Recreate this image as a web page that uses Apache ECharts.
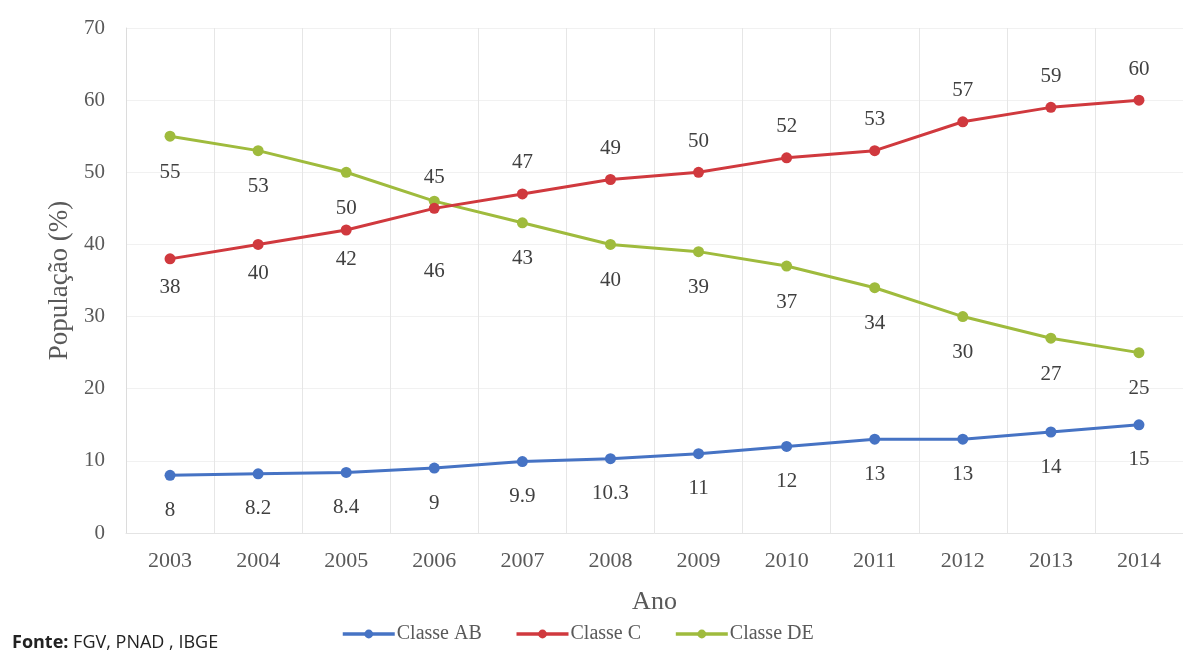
<!DOCTYPE html>
<html>
<head>
<meta charset="utf-8">
<style>
  html, body { margin: 0; padding: 0; background: #ffffff; }
  #chart { width: 1183px; height: 652px; }
</style>
<script src="https://cdn.jsdelivr.net/npm/echarts@6/dist/echarts.min.js"></script>
</head>
<body>
<div id="chart"></div>
<script>
// Years on the horizontal axis
const anos = ['2003', '2004', '2005', '2006', '2007', '2008', '2009', '2010', '2011', '2012', '2013', '2014'];

// Share of population per income class (%)
const classeAB = [8, 8.2, 8.4, 9, 9.9, 10.3, 11, 12, 13, 13, 14, 15];
const classeC = [38, 40, 42, 45, 47, 49, 50, 52, 53, 57, 59, 60];
const classeDE = [55, 53, 50, 46, 43, 40, 39, 37, 34, 30, 27, 25];

// Class C labels sit below the line until the curves cross
const cLabelBelow = [true, true, true, false, false, false, false, false, false, false, false, false];

const serif = '"Liberation Serif", "DejaVu Serif", serif';
const sans = '"Open Sans", "Liberation Sans", sans-serif';
const labelStyle = { show: true, fontFamily: serif, fontSize: 21, color: '#404040' };

const chart = echarts.init(document.getElementById('chart'));

chart.setOption({
  backgroundColor: '#ffffff',
  animation: false,
  grid: { left: 126, top: 28, width: 1061, height: 505 },
  xAxis: {
    type: 'category',
    data: anos,
    boundaryGap: true,
    name: 'Ano',
    nameLocation: 'middle',
    nameGap: 56,
    nameTextStyle: { fontFamily: serif, fontSize: 26, color: '#595959' },
    axisLine: { show: true, lineStyle: { color: '#e4e4e4' } },
    axisTick: { show: false },
    axisLabel: { fontFamily: serif, fontSize: 22, color: '#595959', margin: 17 },
    splitLine: { show: true, interval: 0, lineStyle: { color: '#e6e6e6', width: 1 } }
  },
  yAxis: {
    type: 'value',
    min: 0,
    max: 70,
    interval: 10,
    name: 'População (%)',
    nameLocation: 'middle',
    nameGap: 52,
    nameTextStyle: { fontFamily: serif, fontSize: 27, color: '#595959' },
    axisLine: { show: true, lineStyle: { color: '#dcdcdc' } },
    axisTick: { show: false },
    axisLabel: { fontFamily: serif, fontSize: 21, color: '#595959', margin: 21 },
    splitLine: { show: true, lineStyle: { color: '#f1f1f1', width: 1 } }
  },
  legend: {
    left: 336,
    top: 619,
    itemWidth: 52,
    itemHeight: 11,
    itemGap: 33,
    lineStyle: { width: 3.5 },
    textStyle: { fontFamily: serif, fontSize: 20, color: '#595959', padding: [0, 0, 0, -3] },
    data: ['Classe AB', 'Classe C', 'Classe DE']
  },
  graphic: [{
    type: 'text',
    x: 12,
    y: 643,
    style: {
      text: '{b|Fonte:} FGV, PNAD , IBGE',
      rich: {
        b: { fontFamily: sans, fontWeight: 'bold', fontSize: 18, fill: '#222' }
      },
      fontFamily: sans,
      fontSize: 18,
      fill: '#222',
      verticalAlign: 'middle'
    }
  }],
  series: [
    {
      name: 'Classe AB',
      type: 'line',
      data: classeAB,
      symbol: 'circle',
      symbolSize: 11,
      lineStyle: { width: 3, color: '#4673c4' },
      itemStyle: { color: '#4673c4' },
      label: Object.assign({}, labelStyle, { position: 'bottom', distance: 19 }),
      z: 3
    },
    {
      name: 'Classe C',
      type: 'line',
      data: classeC.map((v, i) => ({
        value: v,
        label: { position: cLabelBelow[i] ? 'bottom' : 'top', distance: cLabelBelow[i] ? 13 : 15 }
      })),
      symbol: 'circle',
      symbolSize: 11,
      lineStyle: { width: 3, color: '#d0393e' },
      itemStyle: { color: '#d0393e' },
      label: labelStyle,
      z: 4
    },
    {
      name: 'Classe DE',
      type: 'line',
      data: classeDE.map((v, i) => ({
        value: v,
        label: { position: 'bottom', distance: i === 3 ? 54 : 20 }
      })),
      symbol: 'circle',
      symbolSize: 11,
      lineStyle: { width: 3, color: '#9fbb3d' },
      itemStyle: { color: '#9fbb3d' },
      label: labelStyle,
      z: 2
    }
  ]
});
</script>
</body>
</html>
